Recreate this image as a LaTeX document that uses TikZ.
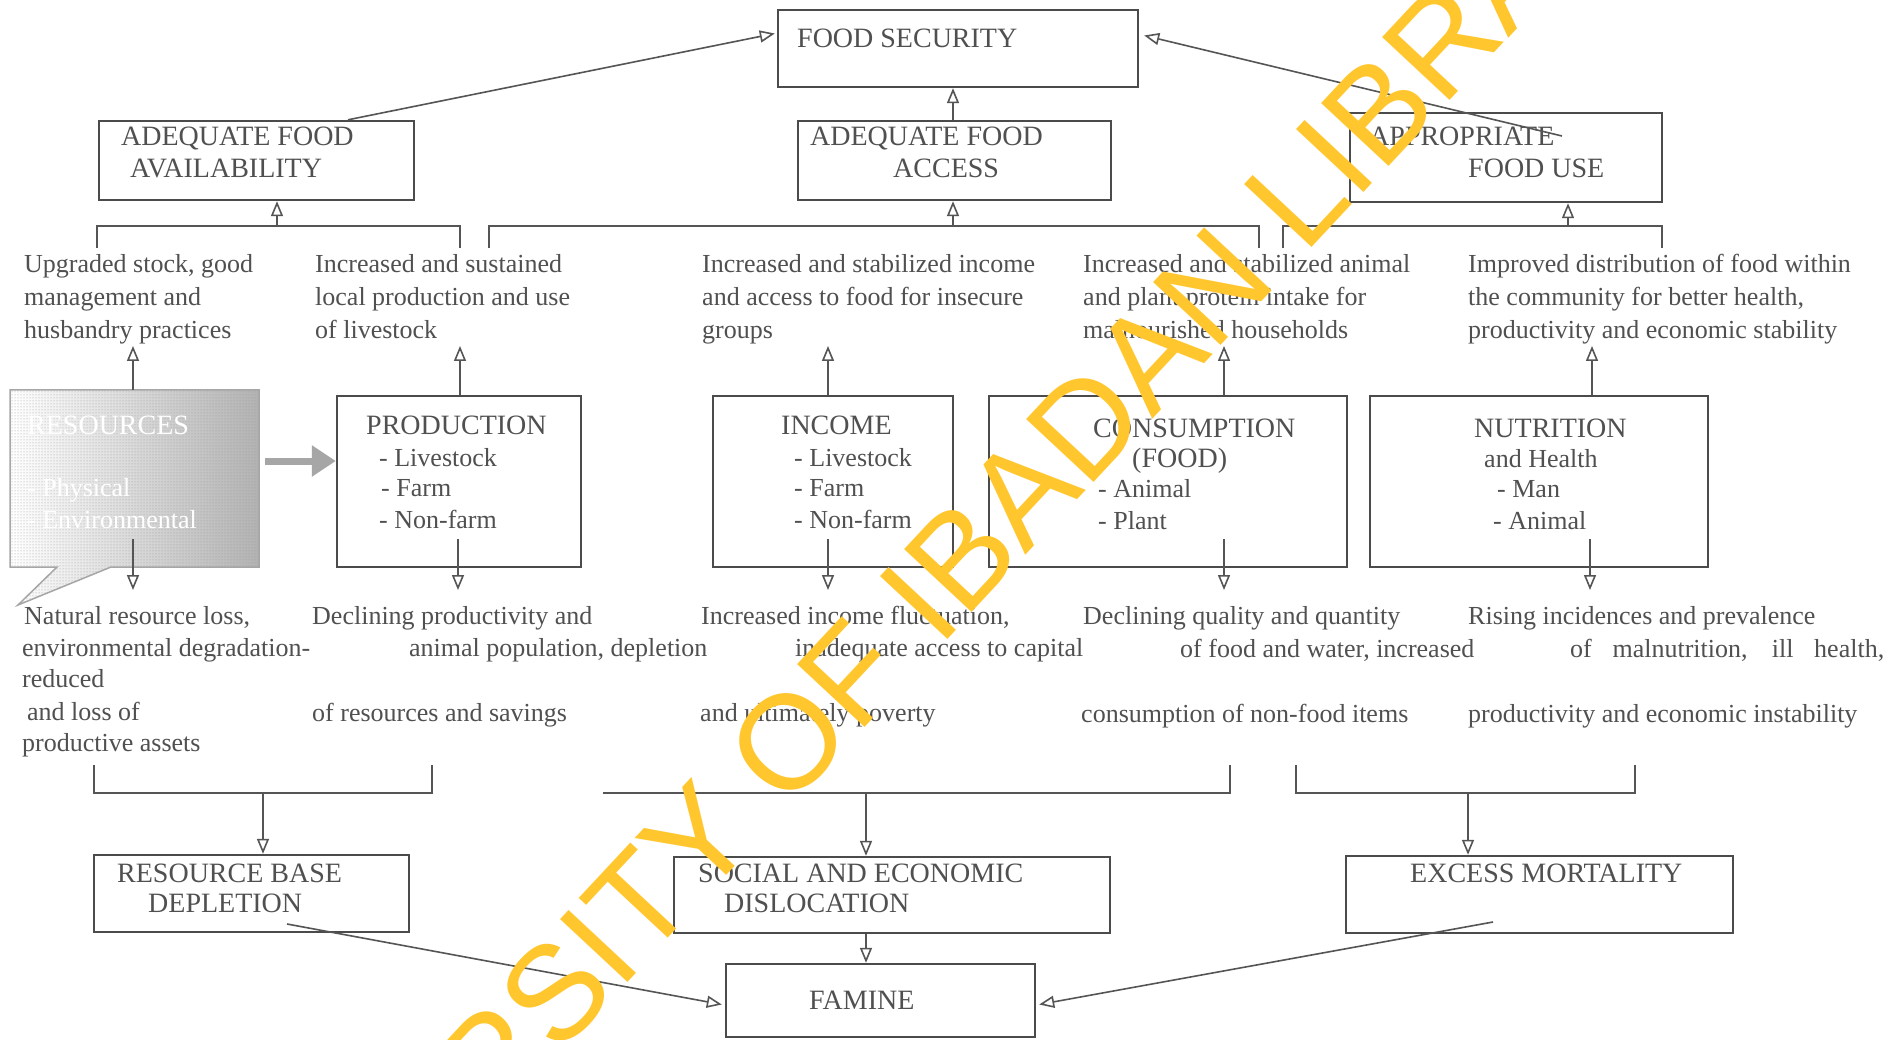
\documentclass[tikz,border=0pt]{standalone}
\usepackage{fontspec}
\setmainfont{Liberation Serif}
\newfontfamily\wmfont{Liberation Sans}
\usetikzlibrary{arrows.meta,patterns,calc}
\definecolor{tc}{RGB}{80,80,80}
\definecolor{lc}{RGB}{85,85,85}
\definecolor{bc}{RGB}{75,75,75}
\definecolor{wm}{RGB}{255,198,45}
\begin{document}
\begin{tikzpicture}[x=1pt,y=-1pt,
 tx/.style={anchor=base west, inner sep=0pt, text=tc, font=\fontsize{26}{32}\selectfont},
 captx/.style={anchor=base west, inner sep=0pt, text=tc, font=\fontsize{28}{32}\selectfont},
 box/.style={draw=bc, line width=2.4pt, inner sep=0pt},
 ln/.style={draw=lc, line width=1.6pt},
 arr/.style={ln, -{Triangle[open, length=15pt, width=12pt]}},
 bigarr/.style={draw=gray!70, line width=7pt, -{Triangle[length=24pt, width=30pt]}},
]
\useasboundingbox[fill=white] (0,0) rectangle (1898,1040);

% ---------- top boxes ----------
\node[box, minimum width=360pt, minimum height=77pt] (fs) at (958,48.5) {};
\node[box, minimum width=315pt, minimum height=79pt] (afa) at (256.5,160.5) {};
\node[box, minimum width=313pt, minimum height=79pt] (afc) at (954.5,160.5) {};
\node[box, minimum width=312pt, minimum height=89pt] (afu) at (1506,157.5) {};
\node[captx] (fst) at (797,48) {FOOD SECURITY};
\node[captx] (afa1) at (121,146) {ADEQUATE FOOD};
\node[captx] (afa2) at (130,178) {AVAILABILITY};
\node[captx] (afc1) at (810,146) {ADEQUATE FOOD};
\node[captx] (afc2) at (893,178) {ACCESS};
\node[captx] (afu1) at (1369,146) {APPROPRIATE};
\node[captx] (afu2) at (1468,178) {FOOD USE};

% ---------- middle boxes ----------
\fill[left color=white, right color=gray!60]
  (10,390) -- (259,390) -- (259,567) -- (111,567) -- (18,605) -- (57,567) -- (10,567) -- cycle;
\fill[pattern=dots, pattern color=gray!80]
  (10,390) -- (259,390) -- (259,567) -- (111,567) -- (18,605) -- (57,567) -- (10,567) -- cycle;
\draw[draw=gray!70, line width=1.5pt]
  (10,390) -- (259,390) -- (259,567) -- (111,567) -- (18,605) -- (57,567) -- (10,567) -- cycle;
\node[inner sep=0pt, minimum width=249pt, minimum height=177pt] (res) at (134.5,478.5) {};
\node[box, minimum width=244pt, minimum height=171pt] (prod) at (459,481.5) {};
\node[box, minimum width=240pt, minimum height=171pt] (inc) at (833,481.5) {};
\node[box, minimum width=358pt, minimum height=171pt] (cons) at (1168,481.5) {};
\node[box, minimum width=338pt, minimum height=171pt] (nut) at (1539,481.5) {};

\node[captx, text=white] (res1) at (27,434) {RESOURCES};
\node[tx, text=white] (res3) at (27,496) {- Physical};
\node[tx, text=white] (res4) at (27,528) {- Environmental};

\node[captx] (prod1) at (366,434) {PRODUCTION};
\node[tx] (prod2) at (379,466) {- Livestock};
\node[tx] (prod3) at (381,496) {- Farm};
\node[tx] (prod4) at (379,528) {- Non-farm};

\node[captx] (inc1) at (781,434) {INCOME};
\node[tx] (inc2) at (794,466) {- Livestock};
\node[tx] (inc3) at (794,496) {- Farm};
\node[tx] (inc4) at (794,528) {- Non-farm};

\node[captx] (cons1) at (1093,437) {CONSUMPTION};
\node[captx] (cons2) at (1132,467) {(FOOD)};
\node[tx] (cons3) at (1098,497) {- Animal};
\node[tx] (cons4) at (1098,529) {- Plant};

\node[captx] (nut1) at (1474,437) {NUTRITION};
\node[tx] (nut2) at (1484,467) {and Health};
\node[tx] (nut3) at (1497,497) {- Man};
\node[tx] (nut4) at (1493,529) {- Animal};

% ---------- bottom boxes ----------
\node[box, minimum width=315pt, minimum height=77pt] (rbd) at (251.5,893.5) {};
\node[box, minimum width=436pt, minimum height=76pt] (sed) at (892,895) {};
\node[box, minimum width=387pt, minimum height=77pt] (em) at (1539.5,894.5) {};
\node[box, minimum width=309pt, minimum height=73pt] (fam) at (880.5,1000.5) {};
\node[captx] (rbd1) at (117,882) {RESOURCE BASE};
\node[captx] (rbd2) at (148,912) {DEPLETION};
\node[captx] (sed1) at (698,882) {SOCIAL AND ECONOMIC};
\node[captx] (sed2) at (724,912) {DISLOCATION};
\node[captx] (em1) at (1410,882) {EXCESS MORTALITY};
\node[captx] (fam1) at (809,1009) {FAMINE};

% ---------- row 2 texts ----------
\node[tx] (t1a) at (24,273) {Upgraded stock, good};
\node[tx] (t1b) at (24,306) {management and};
\node[tx] (t1c) at (24,339) {husbandry practices};
\node[tx] (t2a) at (315,273) {Increased and sustained};
\node[tx] (t2b) at (315,306) {local production and use};
\node[tx] (t2c) at (315,339) {of livestock};
\node[tx] (t3a) at (702,273) {Increased and stabilized income};
\node[tx] (t3b) at (702,306) {and access to food for insecure};
\node[tx] (t3c) at (702,339) {groups};
\node[tx] (t4a) at (1083,273) {Increased and stabilized animal};
\node[tx] (t4b) at (1083,306) {and plant protein intake for};
\node[tx] (t4c) at (1083,339) {malnourished households};
\node[tx] (t5a) at (1468,273) {Improved distribution of food within};
\node[tx] (t5b) at (1468,306) {the community for better health,};
\node[tx] (t5c) at (1468,339) {productivity and economic stability};

% ---------- row 4 texts ----------
\node[tx] (c1a) at (24,624) {Natural resource loss,};
\node[tx] (c1b) at (22,656) {environmental degradation-};
\node[tx] (c1c) at (22,687) {reduced};
\node[tx] (c1d) at (27,720) {and loss of};
\node[tx] (c1e) at (22,751) {productive assets};
\node[tx] (c2a) at (312,624) {Declining productivity and};
\node[tx] (c2b) at (409,656) {animal population, depletion};
\node[tx] (c2c) at (312,721) {of resources and savings};
\node[tx] (c3a) at (701,624) {Increased income fluctuation,};
\node[tx] (c3b) at (795,656) {inadequate access to capital};
\node[tx] (c3c) at (700,721) {and ultimately poverty};
\node[tx] (c4a) at (1083,624) {Declining quality and quantity};
\node[tx] (c4b) at (1180,657) {of food and water, increased};
\node[tx] (c4c) at (1081,722) {consumption of non-food items};
\node[tx] (c5a) at (1468,624) {Rising incidences and prevalence};
\node[tx] (c5b) at (1570,657) {\makebox[314pt][s]{of malnutrition, ill health,}};
\node[tx] (c5c) at (1468,722) {productivity and economic instability};

% ---------- coordinates ----------
\coordinate (upy) at (0,346);
\coordinate (dny0) at (0,539);
\coordinate (dny1) at (0,590);

% ---------- row 2 brackets and arrows up ----------
\draw[ln] (97,248) coordinate (b1a) |- (460,226) coordinate (b1b) -- (460,248) coordinate (b1c);
\draw[ln] (489,248) coordinate (b2a) |- (1259,226) coordinate (b2b) -- (1259,248) coordinate (b2c);
\draw[ln] (1283,248) coordinate (b3a) |- (1662,226) coordinate (b3b) -- (1662,248) coordinate (b3c);
\coordinate (a1) at (277,226);
\coordinate (a2) at (953,226);
\coordinate (a3) at (1568,226);
\draw[arr] (a1) -- (a1 |- afa.south);
\draw[arr] (a2) -- (a2 |- afc.south);
\draw[arr] (a3) -- (a3 |- afu.south);

% ---------- to FOOD SECURITY ----------
\coordinate (p1) at (348,0);
\draw[arr] (afa.north -| p1) -- ($(fs.west)+(-2,-15)$);
\coordinate (p2) at (953,0);
\draw[arr] (afc.north -| p2) -- (fs.south -| p2);
\coordinate (p3) at (1562,136);
\draw[arr] (p3) -- ($(fs.east)+(5,-13)$);

% ---------- middle arrows ----------
\foreach \n/\x in {res/133, prod/460, inc/828, cons/1224, nut/1592}{
  \draw[arr] (\n.north -| \x,0) -- (upy -| \x,0);
}
\foreach \x in {133, 458, 828, 1224, 1590}{
  \draw[arr] (dny0 -| \x,0) -- (dny1 -| \x,0);
}
\coordinate (ay) at (0,461);
\draw[bigarr] ($(res.east |- ay)+(6,0)$) -- (prod.west |- ay);

% ---------- row 5 brackets ----------
\draw[ln] (94,765) coordinate (b4a) |- (432,793) coordinate (b4b) -- (432,765) coordinate (b4c);
\draw[ln] (603,793) coordinate (b5a) -- (1230,793) coordinate (b5b) -- (1230,765) coordinate (b5c);
\draw[ln] (1296,765) coordinate (b6a) |- (1635,793) coordinate (b6b) -- (1635,765) coordinate (b6c);
\coordinate (a4) at (263,793);
\coordinate (a5) at (866,793);
\coordinate (a6) at (1468,793);
\draw[arr] (a4) -- (a4 |- rbd.north);
\draw[arr] (a5) -- (a5 |- sed.north);
\draw[arr] (a6) -- (a6 |- em.north);

% ---------- to FAMINE ----------
\coordinate (q1) at (287,924);
\draw[arr] (q1) -- ($(fam.west)+(-3,4)$);
\coordinate (q2) at (1493,922);
\draw[arr] (q2) -- ($(fam.east)+(3,4)$);
\coordinate (q3) at (866,0);
\draw[arr] (sed.south -| q3) -- (fam.north -| q3);

% ---------- watermark ----------
\node[rotate=47, text=wm, inner sep=0pt, font=\wmfont\fontsize{134}{134}\selectfont] (wmk) at (920,601) {UNIVERSITY OF IBADAN LIBRARY};
\end{tikzpicture}
\end{document}
